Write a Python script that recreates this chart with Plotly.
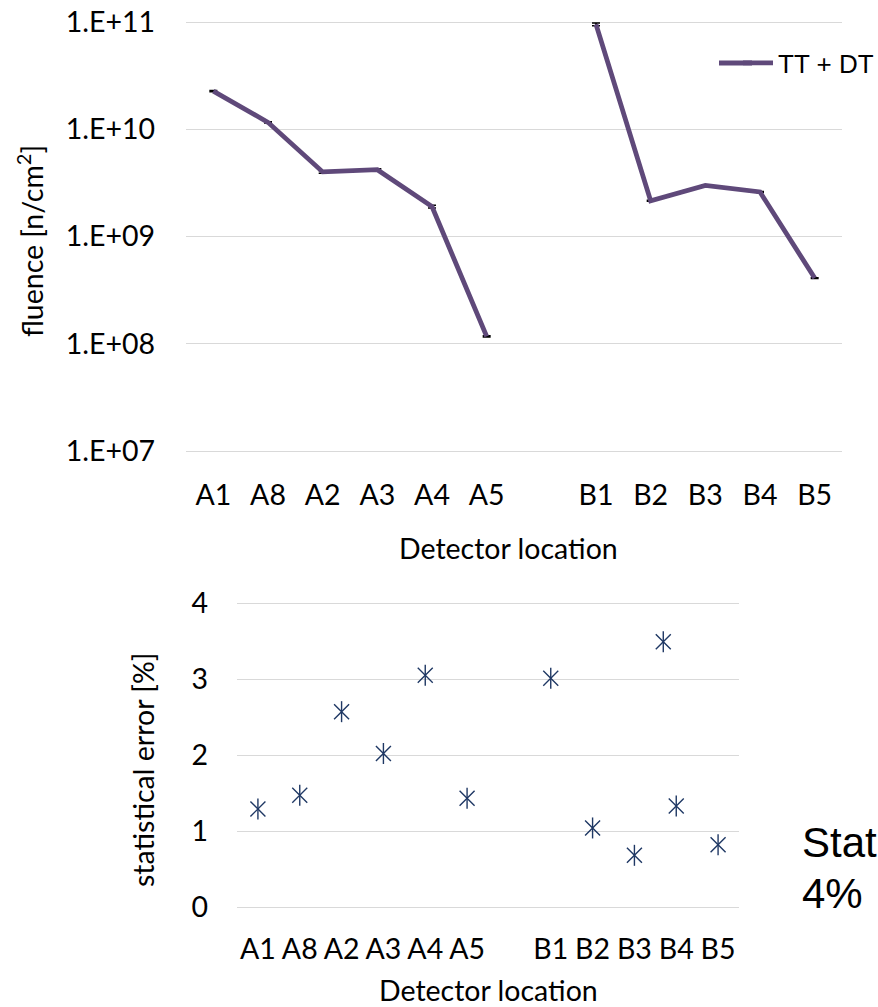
import plotly.graph_objects as go

# ---------------- data ----------------
categories = ["A1", "A8", "A2", "A3", "A4", "A5", " ", "B1", "B2", "B3", "B4", "B5"]
fluence = [2.27e10, 1.16e10, 4.0e9, 4.2e9, 1.9e9, 1.17e8, None, 9.5e10, 2.15e9, 3.0e9, 2.6e9, 4.1e8]
stat_err = [1.29, 1.47, 2.57, 2.02, 3.05, 1.43, None, 3.01, 1.04, 0.68, 1.33, 0.82]
extra_pos = [9.69]
extra_err = [3.49]
series_name = "TT + DT"
y_tickvals = [1e7, 1e8, 1e9, 1e10, 1e11]
y_ticktext = ["1.E+07", "1.E+08", "1.E+09", "1.E+10", "1.E+11"]

W, H = 878, 1007
def px(x):
    return x / W
def py(y):
    return 1 - y / H

fl_err = [None if (v is None or e is None) else v * e / 100 for v, e in zip(fluence, stat_err)]
idx = list(range(len(categories)))
shown_idx = [i for i, c in enumerate(categories) if c.strip()]
shown_cat = [categories[i] for i in shown_idx]

LINE_COL = "#5F497A"
STAR_COL = "#1F3864"
GRID = "#D9D9D9"
TICKFONT = dict(family="Lato", size=28.5, color="#000000")

# top panel: gridlines 1e11 at y=22px, 1e7 at y=451px; pad 10px above/below
dec = (451 - 22) / 4.0
pad = 10
# bottom panel: 4 at y=603px, 0 at y=907px
unit = (907 - 603) / 4.0

fig = go.Figure()
fig.add_trace(go.Scatter(
    x=categories, y=fluence, mode="lines", name=series_name,
    line=dict(color=LINE_COL, width=4.8), connectgaps=False,
    error_y=dict(type="data", array=fl_err, color="#000000", thickness=1.5, width=4),
    xaxis="x", yaxis="y", showlegend=True, cliponaxis=False))

for sym, sz in [("x-thin-open", 15), ("line-ns-open", 15)]:
    mk = dict(symbol=sym, size=sz, color=STAR_COL, line=dict(color=STAR_COL, width=1.4))
    fig.add_trace(go.Scatter(
        x=idx, y=stat_err, mode="markers", showlegend=False, marker=mk,
        xaxis="x2", yaxis="y2", cliponaxis=False))
    fig.add_trace(go.Scatter(
        x=extra_pos, y=extra_err, mode="markers", showlegend=False, marker=mk,
        xaxis="x2", yaxis="y2", cliponaxis=False))

fig.update_layout(
    template="none",
    width=W, height=H, margin=dict(l=0, r=0, t=0, b=0, autoexpand=False),
    paper_bgcolor="white", plot_bgcolor="white",
    showlegend=True,
    legend=dict(x=px(738), y=py(63), xanchor="left", yanchor="middle",
                font=dict(family="Liberation Sans", size=26, color="#000000"),
                bgcolor="rgba(0,0,0,0)", borderwidth=0, itemwidth=30, tracegroupgap=0),
    xaxis=dict(domain=[px(186), px(842)], type="category",
               categoryorder="array", categoryarray=categories,
               range=[-0.5, len(categories) - 0.5],
               tickmode="array", tickvals=shown_cat, ticktext=shown_cat,
               showgrid=False, showline=False, zeroline=False, ticks="",
               tickfont=TICKFONT, ticklabelstandoff=14, anchor="y", automargin=False),
    yaxis=dict(domain=[py(451 + pad), py(22 - pad)], type="log",
               range=[7 - pad / dec, 11 + pad / dec],
               tickvals=y_tickvals, ticktext=y_ticktext,
               showgrid=True, gridcolor=GRID, gridwidth=1.3,
               showline=False, zeroline=False, ticks="",
               tickfont=TICKFONT, ticklabelstandoff=30, anchor="x", automargin=False),
    xaxis2=dict(domain=[px(237), px(739)], range=[-0.5, len(categories) - 0.5],
                tickvals=shown_idx, ticktext=shown_cat,
                showgrid=False, showline=False, zeroline=False, ticks="",
                tickfont=TICKFONT, ticklabelstandoff=12, anchor="y2", automargin=False),
    yaxis2=dict(domain=[py(907 + pad), py(603 - pad)],
                range=[0 - pad / unit, 4 + pad / unit], tickvals=[0, 1, 2, 3, 4],
                showgrid=True, gridcolor=GRID, gridwidth=1.3,
                showline=False, zeroline=False, ticks="",
                tickfont=TICKFONT, ticklabelstandoff=28, anchor="x2", automargin=False),
)

# extend the legend sample line to the length used in the reference
fig.add_shape(type="line", xref="paper", yref="paper", x0=px(719), x1=px(752),
              y0=py(63), y1=py(63), line=dict(color=LINE_COL, width=5))

ann_font = dict(family="Lato", size=28.5, color="#000000")
fig.add_annotation(text="Detector location", x=px(508), y=py(548), xref="paper", yref="paper",
                   showarrow=False, font=ann_font, xanchor="center", yanchor="middle")
fig.add_annotation(text="Detector location", x=px(488), y=py(990), xref="paper", yref="paper",
                   showarrow=False, font=ann_font, xanchor="center", yanchor="middle")
fig.add_annotation(text="fluence [n/cm<sup>2</sup>]", x=px(30), y=py(241), xref="paper", yref="paper",
                   showarrow=False, font=ann_font, textangle=-90, xanchor="center", yanchor="middle")
fig.add_annotation(text="statistical error [%]", x=px(143), y=py(770), xref="paper", yref="paper",
                   showarrow=False, font=ann_font, textangle=-90, xanchor="center", yanchor="middle")
side_font = dict(family="Liberation Sans", size=42, color="#000000")
fig.add_annotation(text="Stat", x=px(800), y=py(842), xref="paper", yref="paper",
                   showarrow=False, font=side_font, xanchor="left", yanchor="middle")
fig.add_annotation(text="4% ", x=px(800), y=py(893), xref="paper", yref="paper",
                   showarrow=False, font=side_font, xanchor="left", yanchor="middle")

fig.write_html("out.html")
